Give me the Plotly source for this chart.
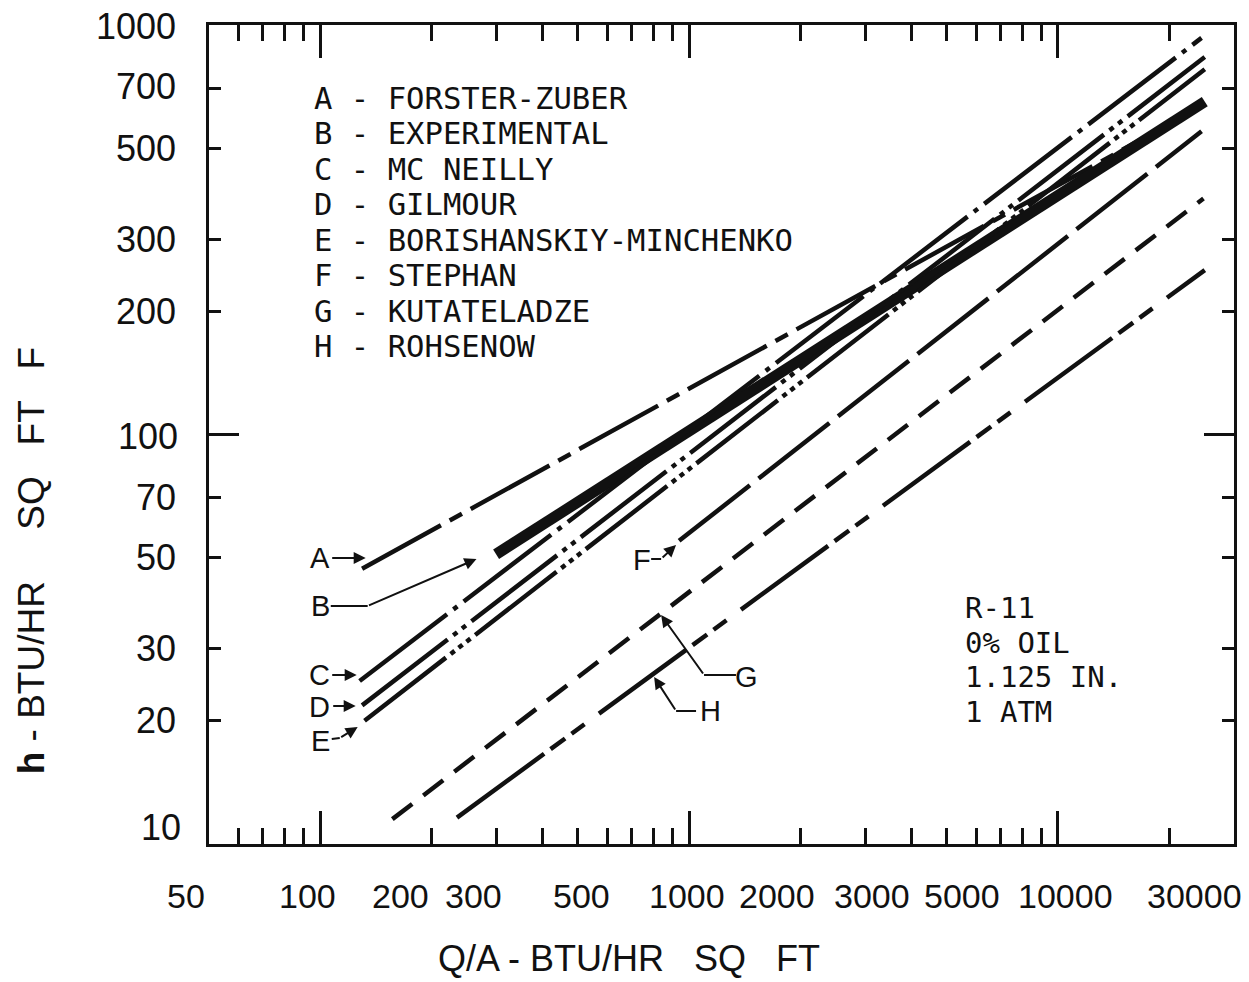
import numpy as np
import plotly.graph_objects as go

# ---- data (start / end of each correlation line) ----
SERIES_KEYS = ["A", "B", "C", "D", "E", "F", "G", "H"]
SERIES_NAMES = ["FORSTER-ZUBER", "EXPERIMENTAL", "MC NEILLY", "GILMOUR",
                "BORISHANSKIY-MINCHENKO", "STEPHAN", "KUTATELADZE", "ROHSENOW"]
q_forster = [130, 25000];   h_forster = [47, 640]
q_exper = [300, 25000];     h_exper = [51, 650]
q_mcneilly = [128, 24500];  h_mcneilly = [25, 930]
q_gilmour = [130, 25000];   h_gilmour = [21.8, 835]
q_borish = [132, 25000];    h_borish = [20, 780]
q_stephan = [940, 24500];   h_stephan = [55, 550]
q_kutat = [157, 24800];     h_kutat = [11.5, 377]
q_rohsenow = [235, 25000];  h_rohsenow = [11.6, 252]

X_TICK_VALUES = [50, 100, 200, 300, 500, 1000, 2000, 3000, 5000, 10000, 30000]
X_TICK_TEXT = ["50", "100", "200", "300", "500", "1000", "2000", "3000", "5000", "10000", "30000"]
X_MAJOR = [100, 1000, 10000]
X_MINOR = [60, 70, 80, 90, 200, 300, 400, 500, 600, 700, 800, 900,
           2000, 3000, 4000, 5000, 6000, 7000, 8000, 9000, 20000]
Y_TICK_VALUES = [10, 20, 30, 50, 70, 100, 200, 300, 500, 700, 1000]
Y_TICK_TEXT = ["10", "20", "30", "50", "70", "100", "200", "300", "500", "700", "1000"]
Y_MAJOR = [100]
Y_MINOR = [20, 30, 50, 70, 200, 300, 500, 700]
CONDITIONS = ["R-11", "0% OIL", "1.125 IN.", "1 ATM"]

# ---- layout / style ----
W_PX, H_PX = 1249, 982
L, R, T, B = 209, 13, 25, 138
PW, PH = W_PX - L - R, H_PX - T - B
SANS = "Liberation Sans, Arial, sans-serif"
MONO = "DejaVu Sans Mono, Liberation Mono, monospace"
BLACK = "#111111"
SP = "\u00a0"


def px(x):
    return (x - L) / PW


def py(y):
    return (H_PX - B - y) / PH


series = [
    (q_forster, h_forster, "90px,10px,14px,10px", 4.5),
    (q_exper, h_exper, "solid", 11),
    (q_mcneilly, h_mcneilly, "110px,8px,5px,8px", 4.5),
    (q_gilmour, h_gilmour, "108px,7px,5px,6px,5px,7px", 4.5),
    (q_borish, h_borish, "103px,6px,5px,5px,5px,5px,5px,6px", 4.5),
    (q_stephan, h_stephan, "90px,11px", 4.5),
    (q_kutat, h_kutat, "25px,14px", 4.5),
    (q_rohsenow, h_rohsenow, "108px,8px,18px,8px,16px,18px", 4.5),
]

fig = go.Figure()
for (q, h, dash, w), key, name in zip(series, SERIES_KEYS, SERIES_NAMES):
    fig.add_trace(go.Scatter(x=q, y=h, mode="lines", name=f"{key} - {name}",
                             line=dict(color=BLACK, width=w, dash=dash),
                             showlegend=False, hoverinfo="skip"))

ann = []
shapes = []

# x tick labels (typed labels sit slightly off their ticks in the original)
x_label_shift = [-23, -13, -31, -23, 4, -2, -23, 7, 15, 8, -40]
for v, t, s in zip(X_TICK_VALUES, X_TICK_TEXT, x_label_shift):
    ann.append(dict(x=np.log10(v), xref="x", y=py(896), yref="paper", text=t,
                    showarrow=False, xshift=s, xanchor="center", yanchor="middle",
                    font=dict(family=SANS, size=34, color=BLACK)))
# y tick labels
y_label_shift = [17, 0, 0, 0, 0, -2, 0, 0, 0, 2, -1]
y_label_x = [183, 178, 178, 178, 178, 180, 178, 178, 178, 178, 178]
for v, t, s, xr in zip(Y_TICK_VALUES, Y_TICK_TEXT, y_label_shift, y_label_x):
    ann.append(dict(x=px(xr), xref="paper", y=np.log10(v), yref="y", text=t,
                    showarrow=False, yshift=s, xanchor="right", yanchor="middle",
                    font=dict(family=SANS, size=36, color=BLACK)))

# axis titles
ann.append(dict(x=px(630), y=py(958), xref="paper", yref="paper",
                xanchor="center", yanchor="middle",
                text=f"Q/A - BTU/HR{SP*3}SQ{SP*3}FT", showarrow=False,
                font=dict(family=SANS, size=36, color=BLACK)))
ann.append(dict(x=px(31), y=py(560), xref="paper", yref="paper", textangle=-90,
                xanchor="center", yanchor="middle",
                text=f"<b>h</b> - BTU/HR{SP*5}SQ{SP*3}FT{SP*3}F", showarrow=False,
                font=dict(family=SANS, size=37, color=BLACK)))

# key (legend block)
for i, (k, n) in enumerate(zip(SERIES_KEYS, SERIES_NAMES)):
    ann.append(dict(x=px(312), y=py(98.6 + i * 35.4), xref="paper", yref="paper",
                    text=f"{k} - {n}", showarrow=False, xanchor="left", yanchor="middle",
                    font=dict(family=MONO, size=30.6, color=BLACK)))

# conditions block
for i, c in enumerate(CONDITIONS):
    ann.append(dict(x=px(964), y=py(608 + i * 34.7), xref="paper", yref="paper",
                    text=c, showarrow=False, xanchor="left", yanchor="middle",
                    font=dict(family=MONO, size=29, color=BLACK)))

# line letters with arrows
letters = [("A", 320, 558), ("B", 321, 606), ("C", 320, 675), ("D", 320, 707),
           ("E", 321, 741), ("F", 643, 560), ("G", 748, 677), ("H", 711, 711)]
for k, x, y in letters:
    ann.append(dict(x=px(x), y=py(y), xref="paper", yref="paper", text=k,
                    xanchor="center", yanchor="middle",
                    showarrow=False, font=dict(family=SANS, size=29, color=BLACK)))

arrows = [((366, 558), (331, 558)), ((477, 559), (368, 606)), ((357, 675), (331, 675)),
          ((356, 706), (332, 706)), ((358, 727), (340, 738)), ((677, 545), (662, 559)),
          ((662, 615), (705, 675)), ((655, 677), (677, 711))]
for (hx, hy), (tx, ty) in arrows:
    ann.append(dict(x=px(hx), y=py(hy), xref="paper", yref="paper", text="",
                    showarrow=True, ax=tx - hx, ay=ty - hy, arrowhead=2, arrowsize=1.2,
                    arrowwidth=2, arrowcolor=BLACK, standoff=0, startstandoff=0))
legs = [((331, 606), (368, 606)), ((332, 739), (340, 738)), ((652, 559), (662, 559)),
        ((705, 675), (737, 675)), ((677, 711), (697, 711))]
for (x0, y0), (x1, y1) in legs:
    shapes.append(dict(type="line", xref="paper", yref="paper", x0=px(x0), y0=py(y0),
                       x1=px(x1), y1=py(y1), line=dict(color=BLACK, width=2)))

axis_common = dict(type="log", showgrid=False, zeroline=False, showline=True,
                   linecolor=BLACK, linewidth=3, mirror="ticks", ticks="inside",
                   tickcolor=BLACK, tickwidth=3, showticklabels=False, tickmode="array")
fig.update_layout(
    width=W_PX, height=H_PX,
    margin=dict(l=L, r=R, t=T, b=B, pad=0),
    paper_bgcolor="white", plot_bgcolor="white",
    xaxis=dict(range=[np.log10(50), np.log10(30000)], tickvals=X_MAJOR, ticklen=33,
               minor=dict(tickmode="array", tickvals=X_MINOR, ticks="inside",
                          ticklen=16, tickwidth=3, tickcolor=BLACK),
               **axis_common),
    yaxis=dict(range=[1, 3], tickvals=Y_MAJOR, ticklen=30,
               minor=dict(tickmode="array", tickvals=Y_MINOR, ticks="inside",
                          ticklen=12, tickwidth=3, tickcolor=BLACK),
               **axis_common),
    annotations=ann, shapes=shapes, showlegend=False,
)
fig.write_html("out.html")
